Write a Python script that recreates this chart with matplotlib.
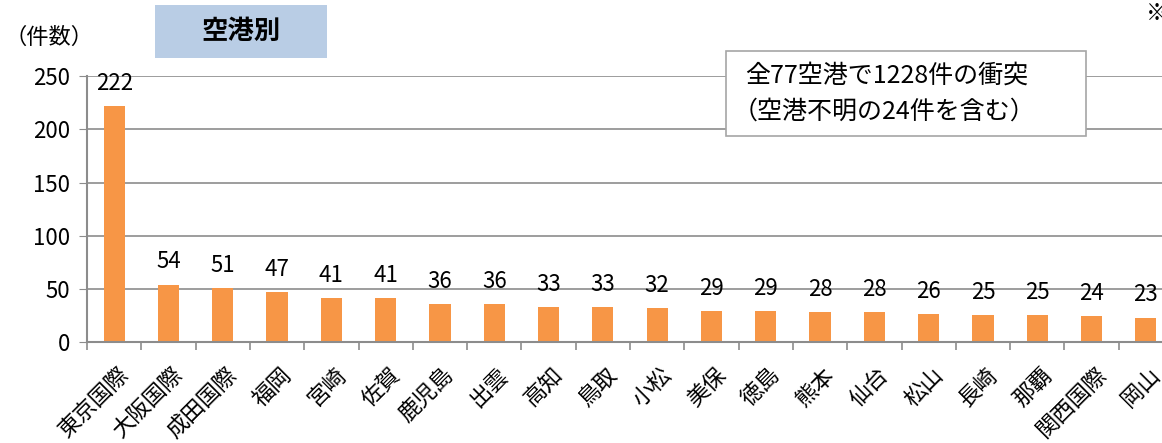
import matplotlib.pyplot as plt
from matplotlib.patches import Rectangle

plt.rcParams['font.family'] = ['Noto Sans CJK JP', 'DejaVu Sans']

airports = ['東京国際', '大阪国際', '成田国際', '福岡', '宮崎', '佐賀', '鹿児島', '出雲', '高知', '鳥取',
            '小松', '美保', '徳島', '熊本', '仙台', '松山', '長崎', '那覇', '関西国際', '岡山']
counts = [222, 54, 51, 47, 41, 41, 36, 36, 33, 33, 32, 29, 29, 28, 28, 26, 25, 25, 24, 23]

bar_color = '#F79646'
grid_color = '#8C8C8C'

fig = plt.figure(figsize=(11.62, 4.43), dpi=100)
ax = fig.add_axes([0.0749, 0.228, 0.9346, 0.600])

x = list(range(len(airports)))
ax.bar(x, counts, width=0.39, color=bar_color, zorder=3)
ax.set_xlim(-0.5, len(airports) - 0.5)
ax.set_ylim(0, 250)
ax.set_yticks(range(0, 251, 50))
ax.tick_params(axis='y', labelsize=16, length=6, color=grid_color, pad=6)
ax.yaxis.grid(True, color=grid_color, linewidth=1.2, zorder=0)

# category ticks sit between bars, labels under bar centres
ax.set_xticks([i - 0.5 for i in x] + [len(airports) - 0.5])
ax.set_xticklabels([])
ax.tick_params(axis='x', length=6, color=grid_color, width=1.2)
for i, name in zip(x, airports):
    ax.text(i + 0.05, -0.08, name, transform=ax.get_xaxis_transform(), rotation=45,
            ha='right', va='top', rotation_mode='anchor', fontsize=16)

for i, v in zip(x, counts):
    ax.annotate(str(v), (i, v), xytext=(0, 8), textcoords='offset points',
                ha='center', va='bottom', fontsize=16, clip_on=False)

for s in ['top', 'right']:
    ax.spines[s].set_visible(False)
for s in ['left', 'bottom']:
    ax.spines[s].set_color(grid_color)
    ax.spines[s].set_linewidth(1.5)
    ax.spines[s].set_zorder(4)

# header items
fig.text(0.004, 0.915, '（件数）', fontsize=16, ha='left', va='center')
fig.patches.append(Rectangle((155 / 1162, 1 - 58 / 443), 172 / 1162, 53 / 443,
                             transform=fig.transFigure, facecolor='#B9CDE5', edgecolor='none'))
fig.text(241 / 1162, 1 - 31 / 443, '空港別', fontsize=19, fontweight='bold', ha='center', va='center')
fig.text(1146 / 1162, 1 - 14 / 443, '※', fontsize=16, ha='left', va='center')

fig.patches.append(Rectangle((726 / 1162, 1 - 136 / 443), 360 / 1162, 85 / 443,
                             transform=fig.transFigure, facecolor='white', edgecolor='#A6A6A6',
                             linewidth=1.2, zorder=5))
fig.text(745 / 1162, 1 - 76 / 443, '全77空港で1228件の衝突', fontsize=18, ha='left', va='center', zorder=6)
fig.text(733 / 1162, 1 - 112 / 443, '（空港不明の24件を含む）', fontsize=18, ha='left', va='center', zorder=6)

fig.savefig('out.png', dpi=100)
